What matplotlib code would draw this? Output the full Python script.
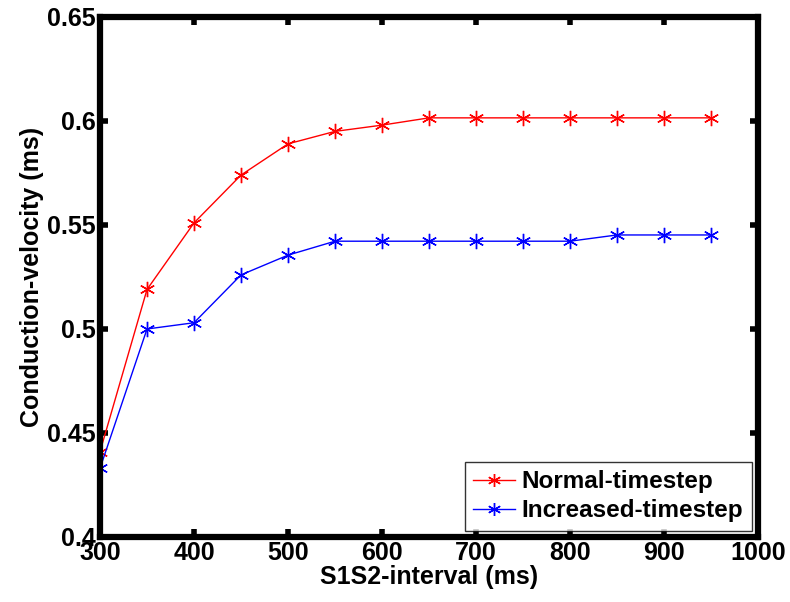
import matplotlib
matplotlib.use("Agg")
import matplotlib.pyplot as plt

x_vals = [300, 350, 400, 450, 500, 550, 600, 650, 700, 750, 800, 850, 900, 950]
normal = [0.441, 0.519, 0.551, 0.574, 0.589, 0.595, 0.598, 0.6015, 0.6015, 0.6015, 0.6015, 0.6015, 0.6015, 0.6015]
increased = [0.433, 0.500, 0.503, 0.526, 0.5355, 0.5422, 0.5422, 0.5422, 0.5422, 0.5422, 0.5422, 0.5452, 0.5452, 0.5452]
xticks = [300, 400, 500, 600, 700, 800, 900, 1000]
yticks = [0.4, 0.45, 0.5, 0.55, 0.6, 0.65]
ytick_labels = ["0.4", "0.45", "0.5", "0.55", "0.6", "0.65"]

plt.rcParams['font.family'] = ['Liberation Sans', 'DejaVu Sans']
fig = plt.figure(figsize=(7.9, 6.02), dpi=100)
ax = fig.add_axes([0.1266, 0.108, 0.8329, 0.8638])

ax.plot(x_vals, normal, color=(1, 0, 0), lw=1.0, marker=(6, 2, 0), ms=11, mew=1.0, label='Normal-timestep')
ax.plot(x_vals, increased, color=(0, 0, 1), lw=1.0, marker=(6, 2, 0), ms=11, mew=1.0, label='Increased-timestep')

ax.set_xlim(300, 1000)
ax.set_ylim(0.4, 0.65)
ax.set_xticks(xticks)
ax.set_yticks(yticks)
ax.set_yticklabels(ytick_labels)
ax.tick_params(direction='in', length=6, width=4, top=True, right=True, labelsize=18, pad=3)
for lab in ax.get_xticklabels() + ax.get_yticklabels():
    lab.set_fontweight('bold')
for s in ax.spines.values():
    s.set_linewidth(4.5)
ax.set_xlabel('S1S2-interval (ms)', fontsize=18, fontweight='bold', labelpad=0)
ax.set_ylabel('Conduction-velocity (ms)', fontsize=18, fontweight='bold', labelpad=2)

leg = ax.legend(loc='lower right', prop={'weight': 'bold', 'size': 17.5}, fancybox=False, edgecolor='black',
                handlelength=1.7, borderaxespad=0.25, borderpad=0.35, labelspacing=0.25, handletextpad=0.3,
                markerscale=0.85)
leg.get_frame().set_linewidth(1.0)

fig.savefig('out.png', dpi=100)
